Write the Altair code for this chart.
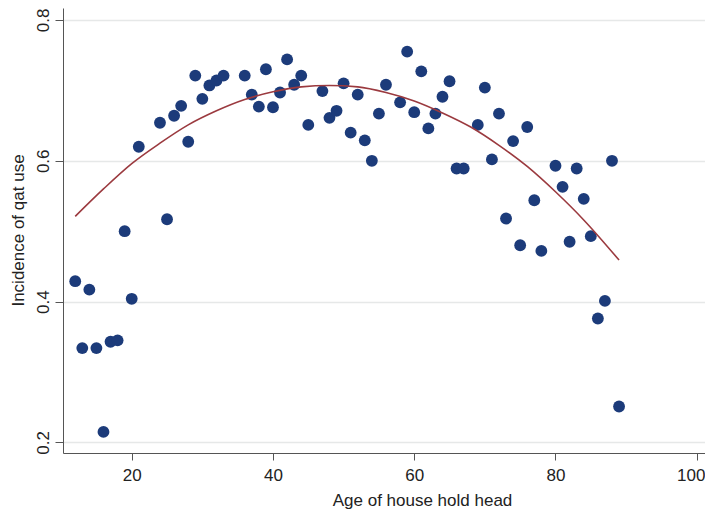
import altair as alt
import pandas as pd

# Scatter data: age of household head vs incidence of qat use
ages = [12, 13, 14, 15, 16, 17, 18, 19, 20, 21, 24, 25, 26, 27, 28, 29, 30, 31, 32, 33,
        36, 37, 38, 39, 40, 41, 42, 43, 44, 45, 47, 48, 49, 50, 51, 52, 53, 54, 55, 56,
        58, 59, 60, 61, 62, 63, 64, 65, 66, 67, 69, 70, 71, 72, 73, 74, 75, 76, 77, 78,
        80, 81, 82, 83, 84, 85, 86, 87, 88, 89]
incidence = [0.429, 0.334, 0.417, 0.334, 0.215, 0.343, 0.345, 0.500, 0.404, 0.620,
             0.654, 0.517, 0.664, 0.678, 0.627, 0.721, 0.688, 0.707, 0.714, 0.721,
             0.721, 0.694, 0.677, 0.730, 0.676, 0.697, 0.744, 0.708, 0.721, 0.651,
             0.699, 0.661, 0.671, 0.710, 0.640, 0.694, 0.629, 0.600, 0.667, 0.708,
             0.683, 0.755, 0.669, 0.727, 0.646, 0.667, 0.691, 0.713, 0.589, 0.589,
             0.651, 0.704, 0.602, 0.667, 0.518, 0.628, 0.480, 0.648, 0.544, 0.472,
             0.593, 0.563, 0.485, 0.589, 0.546, 0.493, 0.376, 0.401, 0.600, 0.251]

# Fitted curve
fit_age = [12, 16, 20, 24, 28, 32, 36, 40, 44, 48, 52, 56, 60, 64, 68, 72, 76, 80, 84, 89]
fit_val = [0.521, 0.560, 0.596, 0.625, 0.651, 0.671, 0.687, 0.698, 0.705, 0.707,
           0.705, 0.697, 0.685, 0.668, 0.648, 0.622, 0.592, 0.556, 0.516, 0.459]

x_ticks = [20, 40, 60, 80, 100]
y_ticks = [0.2, 0.4, 0.6, 0.8]

pts = pd.DataFrame({"age": ages, "inc": incidence})
fit = pd.DataFrame({"age": fit_age, "inc": fit_val})

FONT = "Liberation Sans"

xscale = alt.Scale(domain=[10.27, 101.17], nice=False, zero=False)
yscale = alt.Scale(domain=[0.185, 0.817], nice=False, zero=False)

xaxis = alt.Axis(values=x_ticks, grid=False, title="Age of house hold head",
                 domainColor="#555555", tickColor="#555555", tickSize=7,
                 labelFont=FONT, labelFontSize=17, labelColor="#222222", labelPadding=7,
                 labelOffset={"condition": {"test": "datum.value >= 100", "value": -6},
                              "value": 0},
                 titleFont=FONT, titleFontSize=17, titleFontWeight="normal",
                 titleColor="#222222", titleX=359, titleY=52, titleAlign="center",
                 titleBaseline="alphabetic")
yaxis = alt.Axis(values=y_ticks, grid=True, gridColor="#e6e8e8", gridWidth=1.5,
                 format=".1f", title="Incidence of qat use",
                 domainColor="#555555", tickColor="#555555", tickSize=8,
                 labelFont=FONT, labelFontSize=17, labelColor="#222222",
                 labelAngle=270, labelAlign="center", labelBaseline="alphabetic",
                 labelPadding=7,
                 titleFont=FONT, titleFontSize=17, titleFontWeight="normal",
                 titleColor="#222222", titleAngle=270, titleX=-39.5, titleY=222,
                 titleAlign="center", titleBaseline="alphabetic")

points = alt.Chart(pts).mark_circle(size=140, color="#1c3b7a", opacity=1).encode(
    x=alt.X("age:Q", scale=xscale, axis=xaxis),
    y=alt.Y("inc:Q", scale=yscale, axis=yaxis),
)

line = alt.Chart(fit).mark_line(color="#9b3a3f", strokeWidth=1.6, interpolate="monotone").encode(
    x=alt.X("age:Q", scale=xscale),
    y=alt.Y("inc:Q", scale=yscale),
)

chart = alt.layer(points, line).properties(
    width=642, height=445,
    autosize=alt.AutoSizeParams(type="none"),
    padding={"left": 55, "top": 0, "right": 0, "bottom": 57},
    background="white",
).configure_view(stroke=None)

chart.save("out.html", embed_options={"renderer": "svg", "actions": False})
